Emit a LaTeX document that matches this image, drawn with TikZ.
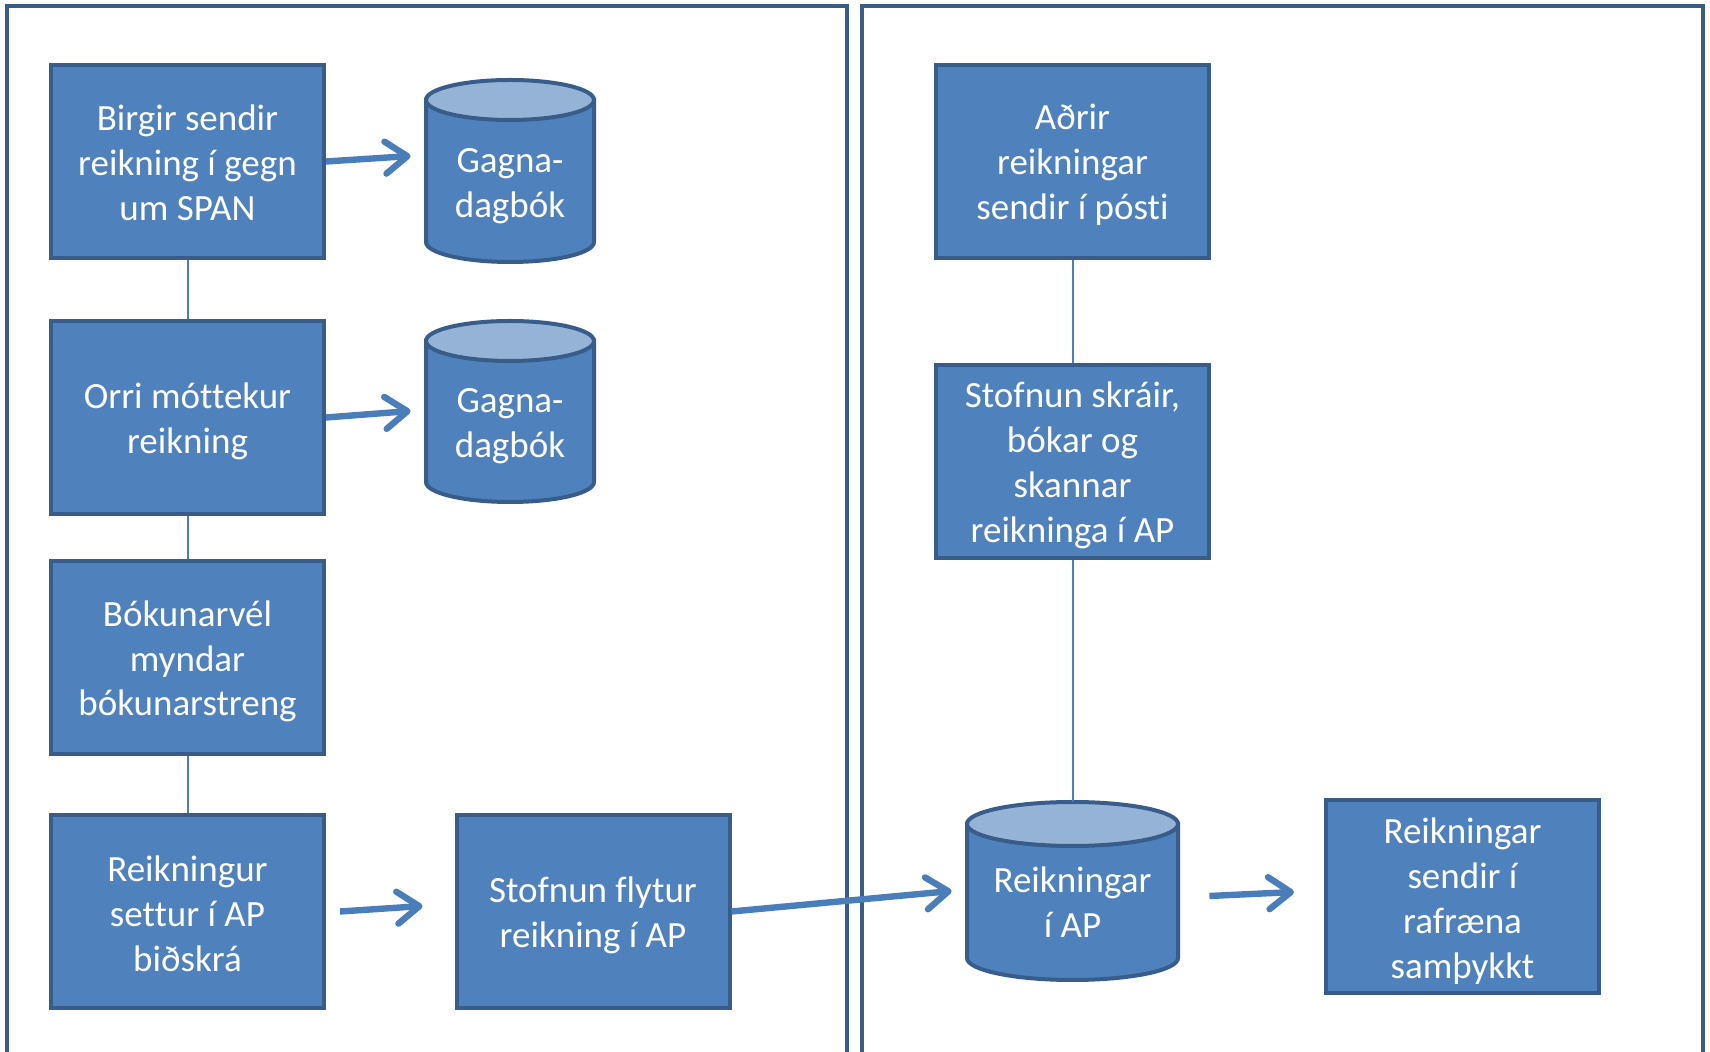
\documentclass[tikz,border=0pt]{standalone}
\usepackage{fontspec}
\setmainfont{Carlito}[Ligatures=NoCommon]
\usetikzlibrary{arrows.meta,calc}
\definecolor{boxfill}{RGB}{79,129,189}
\definecolor{boxline}{RGB}{56,93,138}
\definecolor{cyltop}{RGB}{149,179,215}
\definecolor{arrowc}{RGB}{74,126,187}
\begin{document}
\begin{tikzpicture}[x=0.5pt,y=-0.5pt,
  procbox/.style={rectangle, draw=boxline, fill=boxfill, line width=2pt,
    minimum width=136.5pt, minimum height=96.5pt, inner sep=0pt},
  boxtext/.style={inner sep=0pt, text=white, align=center, yshift=-2pt,
    font=\fontsize{18.5}{22.4}\selectfont},
  cyltext/.style={rectangle, inner sep=0pt, text=white, align=center,
    font=\fontsize{18.5}{22.4}\selectfont},
  cylbody/.style={draw=boxline, fill=boxfill, line width=2pt},
  cylcap/.style={draw=boxline, fill=cyltop, line width=2pt},
  link/.style={draw=arrowc, line width=1pt},
  flow/.style={draw=arrowc, line width=3.2pt, -{Straight Barb[length=11pt,width=16pt,round]}},
  frame/.style={draw=boxline, line width=1.6pt}
]
\useasboundingbox (0,0) rectangle (1710,1052);
\fill[white] (0,0) rectangle (1710,1052);
\begin{scope}
  \clip (0,0) rectangle (1710,1052);
  \draw[frame] (7,6) rectangle (847,1090);
  \draw[frame] (862,6) rectangle (1703,1090);
\end{scope}

% cylinders
\path[cylbody] (426,100) -- (426,242) arc[start angle=180,end angle=360,x radius=42pt,y radius=10pt] -- (594,100) -- cycle;
\path[cylcap] (510,100) ellipse [x radius=42pt, y radius=10pt];
\node[cyltext, minimum width=84pt, minimum height=106pt] (g1) at (510,186) {Gagna-\\dagbók};

\path[cylbody] (426,341) -- (426,482) arc[start angle=180,end angle=360,x radius=42pt,y radius=10pt] -- (594,341) -- cycle;
\path[cylcap] (510,341) ellipse [x radius=42pt, y radius=10pt];
\node[cyltext, minimum width=84pt, minimum height=105pt] (g2) at (510,426) {Gagna-\\dagbók};

\path[cylbody] (967,824) -- (967,958) arc[start angle=180,end angle=360,x radius=52.75pt,y radius=11pt] -- (1178,824) -- cycle;
\path[cylcap] (1072.5,824) ellipse [x radius=52.75pt, y radius=11pt];
\node[cyltext, minimum width=105.5pt, minimum height=100pt] (r) at (1072.5,902) {Reikningar\\í AP};

% boxes
\node[procbox, label={[boxtext, yshift=1.5pt]center:{Birgir sendir\\reikning í gegn\\um SPAN}}] (a) at (187.5,161.5) {};
\node[procbox, label={[boxtext]center:{Orri móttekur\\reikning}}] (b) at (187.5,417.5) {};
\node[procbox, label={[boxtext]center:{Bókunarvél\\myndar\\bókunarstreng}}] (c) at (187.5,657.5) {};
\node[procbox, label={[boxtext, yshift=1pt]center:{Reikningur\\settur í AP\\biðskrá}}] (d) at (187.5,911.5) {};
\node[procbox, label={[boxtext]center:{Stofnun flytur\\reikning í AP}}] (e) at (593,911.5) {};
\node[procbox, label={[boxtext, yshift=0.5pt]center:{Aðrir\\reikningar\\sendir í pósti}}] (f) at (1072.5,161.5) {};
\node[procbox, label={[boxtext]center:{Stofnun skráir,\\bókar og\\skannar\\reikninga í AP}}] (h) at (1072.5,461.5) {};
\node[procbox, label={[boxtext]center:{Reikningar\\sendir í\\rafræna\\samþykkt}}] (s) at (1462.5,897) {};

% thin links
\draw[link] (a.south) -- (b.north);
\draw[link] (b.south) -- (c.north);
\draw[link] (c.south) -- (d.north);
\draw[link] (f.south) -- (h.north);
\draw[link] (h.south) -- (r.north);

% flow arrows
\draw[flow] (a.east) -- ($(g1.west)+(-15,-30)$);
\draw[flow] (b.east) -- ($(g2.west)+(-15,-15)$);
\draw[flow] ($(d.east)+(14,0)$) -- ($(e.west)+(-32,-5.5)$);
\draw[flow] (e.east) -- ($(r.west)+(-15,-11)$);
\draw[flow] ($(r.east)+(31,-6)$) -- ($(s.west)+(-30,-5)$);
\end{tikzpicture}
\end{document}
